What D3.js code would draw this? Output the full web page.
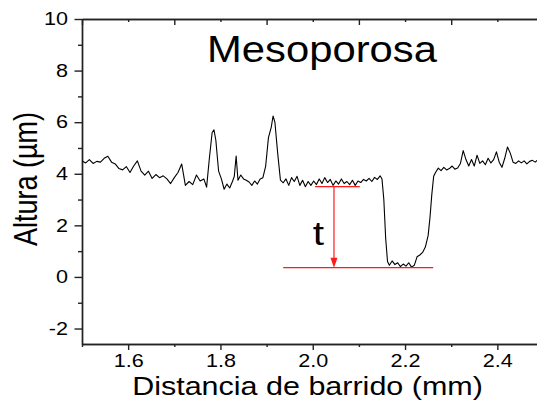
<!DOCTYPE html>
<meta charset="utf-8">
<script src="https://d3js.org/d3.v7.min.js"></script>
<style>
body { margin: 0; background: #fff; }
text { font-family: Arial, "Liberation Sans", sans-serif; fill: #000; }
</style>
<div id="chart"></div>
<script>
// profile data (mm, µm)
var profileX = [1.500,1.508,1.516,1.524,1.532,1.540,1.548,1.556,1.564,1.572,1.580,1.588,1.596,1.604,1.612,1.620,1.628,1.636,1.644,1.652,1.660,1.668,1.676,1.684,1.692,1.700,1.708,1.716,1.724,1.732,1.740,1.748,1.756,1.764,1.770,1.776,1.782,1.786,1.790,1.796,1.802,1.808,1.814,1.820,1.826,1.830,1.834,1.838,1.844,1.850,1.856,1.862,1.868,1.874,1.880,1.886,1.892,1.898,1.904,1.910,1.914,1.918,1.924,1.930,1.936,1.942,1.948,1.954,1.960,1.966,1.972,1.978,1.984,1.990,1.996,2.002,2.008,2.014,2.020,2.026,2.032,2.038,2.044,2.050,2.056,2.062,2.068,2.074,2.080,2.086,2.092,2.098,2.104,2.110,2.116,2.122,2.128,2.134,2.140,2.146,2.150,2.154,2.158,2.162,2.166,2.172,2.178,2.184,2.190,2.196,2.202,2.208,2.214,2.220,2.226,2.232,2.238,2.244,2.250,2.254,2.258,2.262,2.266,2.272,2.278,2.284,2.290,2.296,2.302,2.308,2.314,2.320,2.326,2.332,2.338,2.344,2.350,2.356,2.362,2.368,2.374,2.380,2.386,2.392,2.398,2.404,2.410,2.416,2.422,2.428,2.434,2.440,2.446,2.452,2.458,2.464,2.470,2.476,2.482,2.488];
var profileY = [4.50,4.42,4.55,4.40,4.48,4.45,4.60,4.68,4.45,4.38,4.20,4.15,4.28,4.05,4.30,4.50,4.10,3.95,4.10,3.82,3.97,3.85,3.92,3.80,3.62,3.85,4.05,4.38,3.55,3.70,3.58,3.95,3.72,3.80,3.48,4.60,5.60,5.70,5.30,4.10,3.80,3.40,3.60,3.45,3.70,3.90,4.69,3.75,3.95,3.80,3.75,3.68,3.55,3.72,3.60,3.80,3.85,4.30,5.40,5.80,6.24,6.00,4.80,3.75,3.65,3.80,3.55,3.85,3.70,3.90,3.55,3.75,3.50,3.70,3.55,3.72,3.58,3.80,3.62,3.85,3.66,3.78,3.55,3.72,3.60,3.80,3.62,3.70,3.58,3.75,3.55,3.72,3.66,3.78,3.72,3.82,3.70,3.86,3.78,3.92,3.80,3.00,1.50,0.60,0.45,0.62,0.48,0.55,0.40,0.50,0.42,0.55,0.38,0.45,0.78,0.85,0.95,1.16,1.60,2.30,3.20,3.90,4.05,4.22,4.12,4.25,4.15,4.20,4.30,4.18,4.22,4.40,4.90,4.55,4.30,4.55,4.30,4.72,4.40,4.50,4.35,4.60,4.42,4.55,4.85,4.45,4.25,4.60,5.04,4.80,4.45,4.40,4.50,4.42,4.50,4.38,4.48,4.52,4.45,4.55];

var xTicks = [1.6, 1.8, 2.0, 2.2, 2.4];
var xMinor = [1.5, 1.7, 1.9, 2.1, 2.3, 2.5];
var yTicks = [-2, 0, 2, 4, 6, 8, 10];
var yMinor = [-1, 1, 3, 5, 7, 9];

// thickness annotation
var upperLevel = 3.5, lowerLevel = 0.36;
var upperSpan = [2.005, 2.102];
var lowerSpan = [1.936, 2.261];
var arrowX = 2.046;
var tLabel = {x: 2.0, y: 1.24, text: "t"};

var width = 537, height = 410;
var margin = {top: 19, left: 82, bottom: 66};

var svg = d3.select("#chart").append("svg")
    .attr("width", width)
    .attr("height", height);

var x = d3.scaleLinear().domain([1.5, 2.5]).range([margin.left, margin.left + 461.5]);
var y = d3.scaleLinear().domain([-2.6, 10]).range([height - margin.bottom, margin.top]);

var stretch = 1.2;

svg.append("clipPath").attr("id", "plot")
  .append("rect")
    .attr("x", x(1.5)).attr("y", y(10))
    .attr("width", x(2.5) - x(1.5)).attr("height", y(-2.6) - y(10));

// bottom axis
var bottom = svg.append("g")
    .attr("transform", "translate(0," + y(-2.6) + ")")
    .call(d3.axisBottom(x).tickValues(xTicks).tickFormat(d3.format(".1f"))
      .tickSize(6).tickSizeOuter(0).tickPadding(4));
bottom.selectAll("text").style("font-size", "18px").attr("transform", "scale(" + stretch + ",1)");
svg.append("g")
    .attr("transform", "translate(0," + y(-2.6) + ")")
    .call(d3.axisBottom(x).tickValues(xMinor).tickFormat("").tickSize(3).tickSizeOuter(0));

// top axis, ticks inward
svg.append("g")
    .attr("transform", "translate(0," + y(10) + ")")
    .call(d3.axisTop(x).tickValues(xMinor).tickFormat("").tickSize(-6).tickSizeOuter(0));
svg.append("g")
    .attr("transform", "translate(0," + y(10) + ")")
    .call(d3.axisTop(x).tickValues(xTicks).tickFormat("").tickSize(-3).tickSizeOuter(0));

// left axis
var left = svg.append("g")
    .attr("transform", "translate(" + x(1.5) + ",0)")
    .call(d3.axisLeft(y).tickValues(yTicks).tickFormat(function(d) { return String(d); })
      .tickSize(7.5).tickSizeOuter(0));
left.selectAll("text")
    .style("font-size", "18px")
    .attr("x", -14 / stretch)
    .attr("transform", "scale(" + stretch + ",1)");
svg.append("g")
    .attr("transform", "translate(" + x(1.5) + ",0)")
    .call(d3.axisLeft(y).tickValues(yMinor).tickFormat("").tickSize(4).tickSizeOuter(0));

svg.selectAll(".domain, .tick line").attr("stroke", "#222").attr("stroke-width", 1.4);

// profile
var line = d3.line()
    .x(function(d, i) { return x(profileX[i]); })
    .y(function(d) { return y(d); });

svg.append("path")
    .datum(profileY)
    .attr("clip-path", "url(#plot)")
    .attr("fill", "none")
    .attr("stroke", "#000")
    .attr("stroke-width", 1.1)
    .attr("stroke-linejoin", "round")
    .attr("d", line);

// red thickness marks
var red = "#ff1a1a";
svg.append("line")
    .attr("x1", x(upperSpan[0])).attr("x2", x(upperSpan[1]))
    .attr("y1", y(upperLevel)).attr("y2", y(upperLevel))
    .attr("stroke", red).attr("stroke-width", 1.4);
svg.append("line")
    .attr("x1", x(lowerSpan[0])).attr("x2", x(lowerSpan[1]))
    .attr("y1", y(lowerLevel)).attr("y2", y(lowerLevel))
    .attr("stroke", red).attr("stroke-width", 1.4);
svg.append("line")
    .attr("x1", x(arrowX)).attr("x2", x(arrowX))
    .attr("y1", y(upperLevel)).attr("y2", y(lowerLevel) - 6)
    .attr("stroke", red).attr("stroke-width", 1.2);
var tipX = x(arrowX), tipY = y(lowerLevel);
svg.append("path")
    .attr("d", "M" + tipX + "," + tipY + "L" + (tipX - 3.5) + "," + (tipY - 10) + "L" + (tipX + 3.5) + "," + (tipY - 10) + "Z")
    .attr("fill", red);

svg.append("text")
    .attr("transform", "translate(" + x(tLabel.x) + "," + y(tLabel.y) + ") scale(" + stretch + ",1)")
    .style("font-size", "34px")
    .text(tLabel.text);

// titles
svg.append("text")
    .attr("transform", "translate(322,61.5) scale(1.13,1)")
    .attr("text-anchor", "middle")
    .style("font-size", "37px")
    .text("Mesoporosa");

svg.append("text")
    .attr("transform", "translate(307.5,395) scale(1.22,1)")
    .attr("text-anchor", "middle")
    .style("font-size", "25px")
    .text("Distancia de barrido (mm)");

svg.append("text")
    .attr("transform", "translate(37,179) scale(" + stretch + ",1) rotate(-90)")
    .attr("text-anchor", "middle")
    .style("font-size", "27px")
    .text("Altura (\u00b5m)");
</script>
